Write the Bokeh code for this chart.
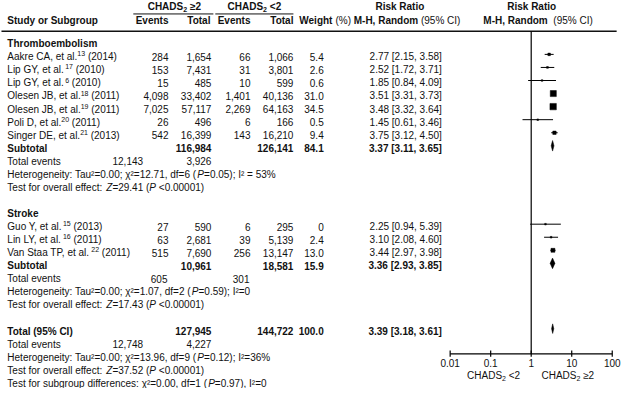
from bokeh.plotting import figure
from bokeh.models import Range1d, LogScale
from bokeh.core.properties import value
from bokeh.embed import file_html
from bokeh.resources import INLINE
import math

# ---------------- data ----------------
groups = ["Thromboembolism", "Stroke"]
authors = ["Aakre CA, et al.", "Lip GY, et al.", "Lip GY, et al.", "Olesen JB, et al.", "Olesen JB, et al.",
           "Poli D, et al.", "Singer DE, et al.", "Guo Y, et al.", "Lin LY, et al.", "Van Staa TP, et al."]
refs = ["13", "17", "6", "18", "19", "20", "21", "15", "16", "22"]
years = ["2014", "2010", "2010", "2011", "2011", "2011", "2013", "2013", "2011", "2011"]
study_group = [0, 0, 0, 0, 0, 0, 0, 1, 1, 1]
events_hi = [284, 153, 15, 4098, 7025, 26, 542, 27, 63, 515]
total_hi = [1654, 7431, 485, 33402, 57117, 496, 16399, 590, 2681, 7690]
events_lo = [66, 31, 10, 1401, 2269, 6, 143, 6, 39, 256]
total_lo = [1066, 3801, 599, 40136, 64163, 166, 16210, 295, 5139, 13147]
weight = [5.4, 2.6, 0.6, 31.0, 34.5, 0.5, 9.4, 0, 2.4, 13.0]
rr = [2.77, 2.52, 1.85, 3.51, 3.48, 1.45, 3.75, 2.25, 3.10, 3.44]
rr_lo = [2.15, 1.72, 0.84, 3.31, 3.32, 0.61, 3.12, 0.94, 2.08, 2.97]
rr_hi = [3.58, 3.71, 4.09, 3.73, 3.64, 3.46, 4.50, 5.39, 4.60, 3.98]

sub_events_hi = [12143, 605]
sub_events_lo = [3926, 301]
sub_total_hi = [116984, 10961]
sub_total_lo = [126141, 18581]
sub_weight = [84.1, 15.9]
sub_rr = [3.37, 3.36]
sub_rr_lo = [3.11, 2.93]
sub_rr_hi = [3.65, 3.85]
sub_tau2 = ["0.00", "0.00"]
sub_chi2 = ["12.71", "1.07"]
sub_df = [6, 2]
sub_p_het = ["0.05", "0.59"]
sub_i2 = ["I² = 53%", "I²=0"]
sub_z = ["29.41", "17.43"]
sub_p = ["<0.00001", "<0.00001"]

all_events_hi = 12748
all_events_lo = 4227
all_total_hi = 127945
all_total_lo = 144722
all_weight = 100.0
all_rr, all_rr_lo, all_rr_hi = 3.39, 3.18, 3.61
all_tau2, all_chi2, all_df, all_p_het, all_i2 = "0.00", "13.96", 9, "0.12", "I²=36%"
all_z, all_p = "37.52", "<0.00001"
subgroup_chi2, subgroup_df, subgroup_p, subgroup_i2 = "0.00", 1, "0.97", "I²=0"

tick_values = [0.01, 0.1, 1, 10, 100]
tick_labels = ["0.01", "0.1", "1", "10", "100"]
arm_suffix = [" ≥2", " <2"]          # CHADS2 >=2 / CHADS2 <2

# ---------------- layout helpers ----------------
W, H = 622, 388
X0, X1 = 2, 639
SX = (X1 - X0) / W            # data units per screen px
FONT = "Liberation Sans"
FSPX = 10.0
SUBPX = 7.0
INK = "#111111"

up = "ABCDEFGHIJKLMNOPQRSTUVWXYZ"
lo = "abcdefghijklmnopqrstuvwxyz"
REG = dict(zip(up, [667,667,722,722,667,611,778,722,278,500,667,556,833,722,778,667,778,722,667,611,722,667,944,667,667,611]))
REG.update(zip(lo, [556,556,500,556,556,278,556,556,222,222,500,222,833,556,556,556,556,333,500,278,556,500,722,500,500,500]))
REG.update({" ": 278, "(": 333, ")": 333, "%": 889, ",": 278, "-": 333, ".": 278, ":": 278, ";": 278,
            "<": 584, "=": 584, ">": 584, "²": 333, "χ": 520, "≥": 549})
BOLD = dict(zip(up, [722,722,722,722,667,611,778,722,278,556,722,611,833,722,778,667,778,722,667,611,722,667,944,667,667,611]))
BOLD.update(zip(lo, [556,611,556,611,556,333,611,611,278,278,556,278,889,611,611,611,611,389,556,333,611,556,778,556,556,500]))
BOLD.update({" ": 278, "(": 333, ")": 333, "%": 889, ",": 278, "-": 333, ".": 278, ":": 333, ";": 333,
             "<": 584, "=": 584, ">": 584, "²": 333, "≥": 549})


def tw(s, style="normal", size=FSPX):
    table = BOLD if style == "bold" else REG
    return sum(table.get(c, 556) for c in s) / 1000.0 * size * SX


ROW0, STEP = 45.0, 13.6


def row_y(i):
    return ROW0 + STEP * i


MK = -2.5  # marker offset relative to text centre

p = figure(width=W, height=H, x_range=Range1d(X0, X1), y_range=Range1d(404, 0),
           output_backend="svg", toolbar_location=None, min_border=0,
           x_axis_type=None, y_axis_type=None, outline_line_color=None)
p.background_fill_color = "white"
p.border_fill_color = "white"

# forest plot log scale: 0.01 -> 462.3, 100 -> 628.3 (reference units)
PX_DEC = 41.5
X_ONE = 545.5
p.extra_x_ranges = {"rr": Range1d(10 ** ((X0 - X_ONE) / PX_DEC), 10 ** ((X1 - X_ONE) / PX_DEC))}
p.extra_x_scales = {"rr": LogScale()}


def txt(xs, ys, texts, align="left", style="normal", rng=None, size=FSPX):
    kw = dict(x=xs, y=ys, text=texts, text_align=align, text_baseline="middle",
              text_font=value(FONT), text_font_size=f"{size}px", text_font_style=style, text_color=INK)
    if rng:
        kw["x_range_name"] = rng
    p.text(**kw)


def segs(x, y, parts, center=None):
    # parts: (text, style[, size, dy])
    parts = [pt if len(pt) == 4 else (pt[0], pt[1], FSPX, 0) for pt in parts]
    total = sum(tw(s, st, sz) for s, st, sz, _ in parts)
    if center is not None:
        x = center - total / 2
    cur = x
    for s, st, sz, dy in parts:
        stripped = s.lstrip(" ")
        lead = tw(s[:len(s) - len(stripped)], st, sz)
        if stripped.strip():
            txt([cur + lead], [y + dy], [stripped.rstrip(" ")], style=st, size=sz)
        cur += tw(s, st, sz)


def chads(cx, y, suffix, style):
    segs(0, y, [("CHADS", style), ("2", style, SUBPX, 3), (suffix, style)], center=cx)


fmt = lambda v: f"{v:,}"
ci = lambda a, b, c: f"{a:.2f} [{b:.2f}, {c:.2f}]"
wf = lambda w: "0" if w == 0 else f"{w:.1f}"

C_STUDY, C_EV1, C_TOT1, C_EV2, C_TOT2, C_W, C_CI = 9, 174, 218, 258, 302, 333, 454

# ---------------- header ----------------
chads(180, 6, arm_suffix[0], "bold")
chads(262, 6, arm_suffix[1], "bold")
txt([411, 546], [6, 6], ["Risk Ratio", "Risk Ratio"], align="center", style="bold")
p.segment(x0=[138, 222], x1=[220, 302], y0=[14, 14], y1=[14, 14], line_color=INK, line_width=1)
txt([C_STUDY], [21], ["Study or Subgroup"], style="bold")
txt([C_EV1, C_TOT1 - 1, C_EV2, C_TOT2], [21] * 4, ["Events", "Total", "Events", "Total"], align="right", style="bold")
segs(308, 21, [("Weight ", "bold"), ("(%) ", "normal"), ("M-H, Random ", "bold"), ("(95% CI)", "normal")])
segs(0, 21, [("M-H, Random  ", "bold"), ("(95% CI)", "normal")], center=552.5)
p.segment(x0=[3], x1=[633], y0=[32], y1=[32], line_color=INK, line_width=1.3)

# ---------------- body ----------------
idx = 0
ev_pos = [(148, 218), (173, 257)]
for g, gname in enumerate(groups):
    txt([C_STUDY], [row_y(idx)], [gname], style="bold")
    idx += 1
    members = [k for k in range(len(authors)) if study_group[k] == g]
    ys = [row_y(idx + j) for j in range(len(members))]
    txt([C_STUDY] * len(members), ys, [authors[k] for k in members])
    sup_x = [C_STUDY + tw(authors[k]) for k in members]
    txt(sup_x, [y - 3 for y in ys], [refs[k] for k in members], size=SUBPX)
    yr_x = [sx + tw(refs[k], size=SUBPX) + tw(" ") for sx, k in zip(sup_x, members)]
    txt(yr_x, ys, [f"({years[k]})" for k in members])
    txt([C_EV1] * len(members), ys, [fmt(events_hi[k]) for k in members], align="right")
    txt([C_TOT1] * len(members), ys, [fmt(total_hi[k]) for k in members], align="right")
    txt([C_EV2] * len(members), ys, [fmt(events_lo[k]) for k in members], align="right")
    txt([C_TOT2] * len(members), ys, [fmt(total_lo[k]) for k in members], align="right")
    txt([C_W] * len(members), ys, [wf(weight[k]) for k in members], align="right")
    txt([C_CI] * len(members), ys, [ci(rr[k], rr_lo[k], rr_hi[k]) for k in members], align="right")
    my = [y + MK for y in ys]
    p.segment(x0=[rr_lo[k] for k in members], x1=[rr_hi[k] for k in members], y0=my, y1=my,
              line_color="black", line_width=1, x_range_name="rr")
    p.scatter(x=[rr[k] for k in members], y=my, marker="square",
              size=[max(1.6, 6.4 * math.sqrt(weight[k] / 34.5)) for k in members],
              fill_color="black", line_color="black", line_width=0.5, x_range_name="rr")
    idx += len(members)
    ys = row_y(idx)
    txt([C_STUDY], [ys], ["Subtotal"], style="bold")
    txt([C_TOT1, C_TOT2, C_W, C_CI], [ys] * 4,
        [fmt(sub_total_hi[g]), fmt(sub_total_lo[g]), f"{sub_weight[g]:.1f}", ci(sub_rr[g], sub_rr_lo[g], sub_rr_hi[g])],
        align="right", style="bold")
    dy = ys + MK
    p.patch(x=[sub_rr_lo[g], sub_rr[g], sub_rr_hi[g], sub_rr[g]], y=[dy, dy - 5.5, dy, dy + 5.5],
            fill_color="black", line_color="black", line_width=0.5, x_range_name="rr")
    idx += 1
    ys = row_y(idx)
    txt([C_STUDY], [ys], ["Total events"])
    txt([ev_pos[g][0], ev_pos[g][1]], [ys, ys], [fmt(sub_events_hi[g]), fmt(sub_events_lo[g])], align="right")
    idx += 1
    segs(C_STUDY, row_y(idx), [(f"Heterogeneity: Tau²={sub_tau2[g]}; χ²={sub_chi2[g]}, df={sub_df[g]} (", "normal"),
                               ("P", "italic"), (f"={sub_p_het[g]}); {sub_i2[g]}", "normal")])
    idx += 1
    segs(C_STUDY, row_y(idx), [("Test for overall effect: ", "normal"), ("Z", "italic"),
                               (f"={sub_z[g]} (", "normal"), ("P", "italic"), (f" {sub_p[g]})", "normal")])
    idx += 2

# overall
ys = row_y(idx)
txt([C_STUDY], [ys], ["Total (95% CI)"], style="bold")
txt([C_TOT1, C_TOT2, C_W, C_CI], [ys] * 4,
    [fmt(all_total_hi), fmt(all_total_lo), f"{all_weight:.1f}", ci(all_rr, all_rr_lo, all_rr_hi)],
    align="right", style="bold")
dy = ys + MK
p.patch(x=[all_rr_lo, all_rr, all_rr_hi, all_rr], y=[dy, dy - 5, dy, dy + 5],
        fill_color="black", line_color="black", line_width=0.5, x_range_name="rr")
idx += 1
ys = row_y(idx)
txt([C_STUDY], [ys], ["Total events"])
txt([148, 218], [ys, ys], [fmt(all_events_hi), fmt(all_events_lo)], align="right")
idx += 1
segs(C_STUDY, row_y(idx), [(f"Heterogeneity: Tau²={all_tau2}; χ²={all_chi2}, df={all_df} (", "normal"),
                           ("P", "italic"), (f"={all_p_het}); {all_i2}", "normal")])
idx += 1
segs(C_STUDY, row_y(idx), [("Test for overall effect: ", "normal"), ("Z", "italic"),
                           (f"={all_z} (", "normal"), ("P", "italic"), (f" {all_p})", "normal")])
idx += 1
segs(C_STUDY, row_y(idx), [(f"Test for subgroup differences: χ²={subgroup_chi2}, df={subgroup_df} (", "normal"),
                           ("P", "italic"), (f"={subgroup_p}), {subgroup_i2}", "normal")])

# ---------------- forest axis ----------------
AX_Y = 368
p.segment(x0=[1], x1=[1], y0=[32], y1=[AX_Y], line_color="black", line_width=1.2, x_range_name="rr")
p.segment(x0=[tick_values[0]], x1=[tick_values[-1]], y0=[AX_Y], y1=[AX_Y], line_color="black",
          line_width=1.2, x_range_name="rr")
p.segment(x0=tick_values, x1=tick_values, y0=[AX_Y - 3.5] * 5, y1=[AX_Y + 3] * 5, line_color="black",
          line_width=1.2, x_range_name="rr")
txt(tick_values, [377.5] * 5, tick_labels, align="center", rng="rr")
chads(507, 390.5, arm_suffix[1], "normal")
chads(583, 390.5, arm_suffix[0], "normal")

open("out.html", "w").write(file_html(p, INLINE))
